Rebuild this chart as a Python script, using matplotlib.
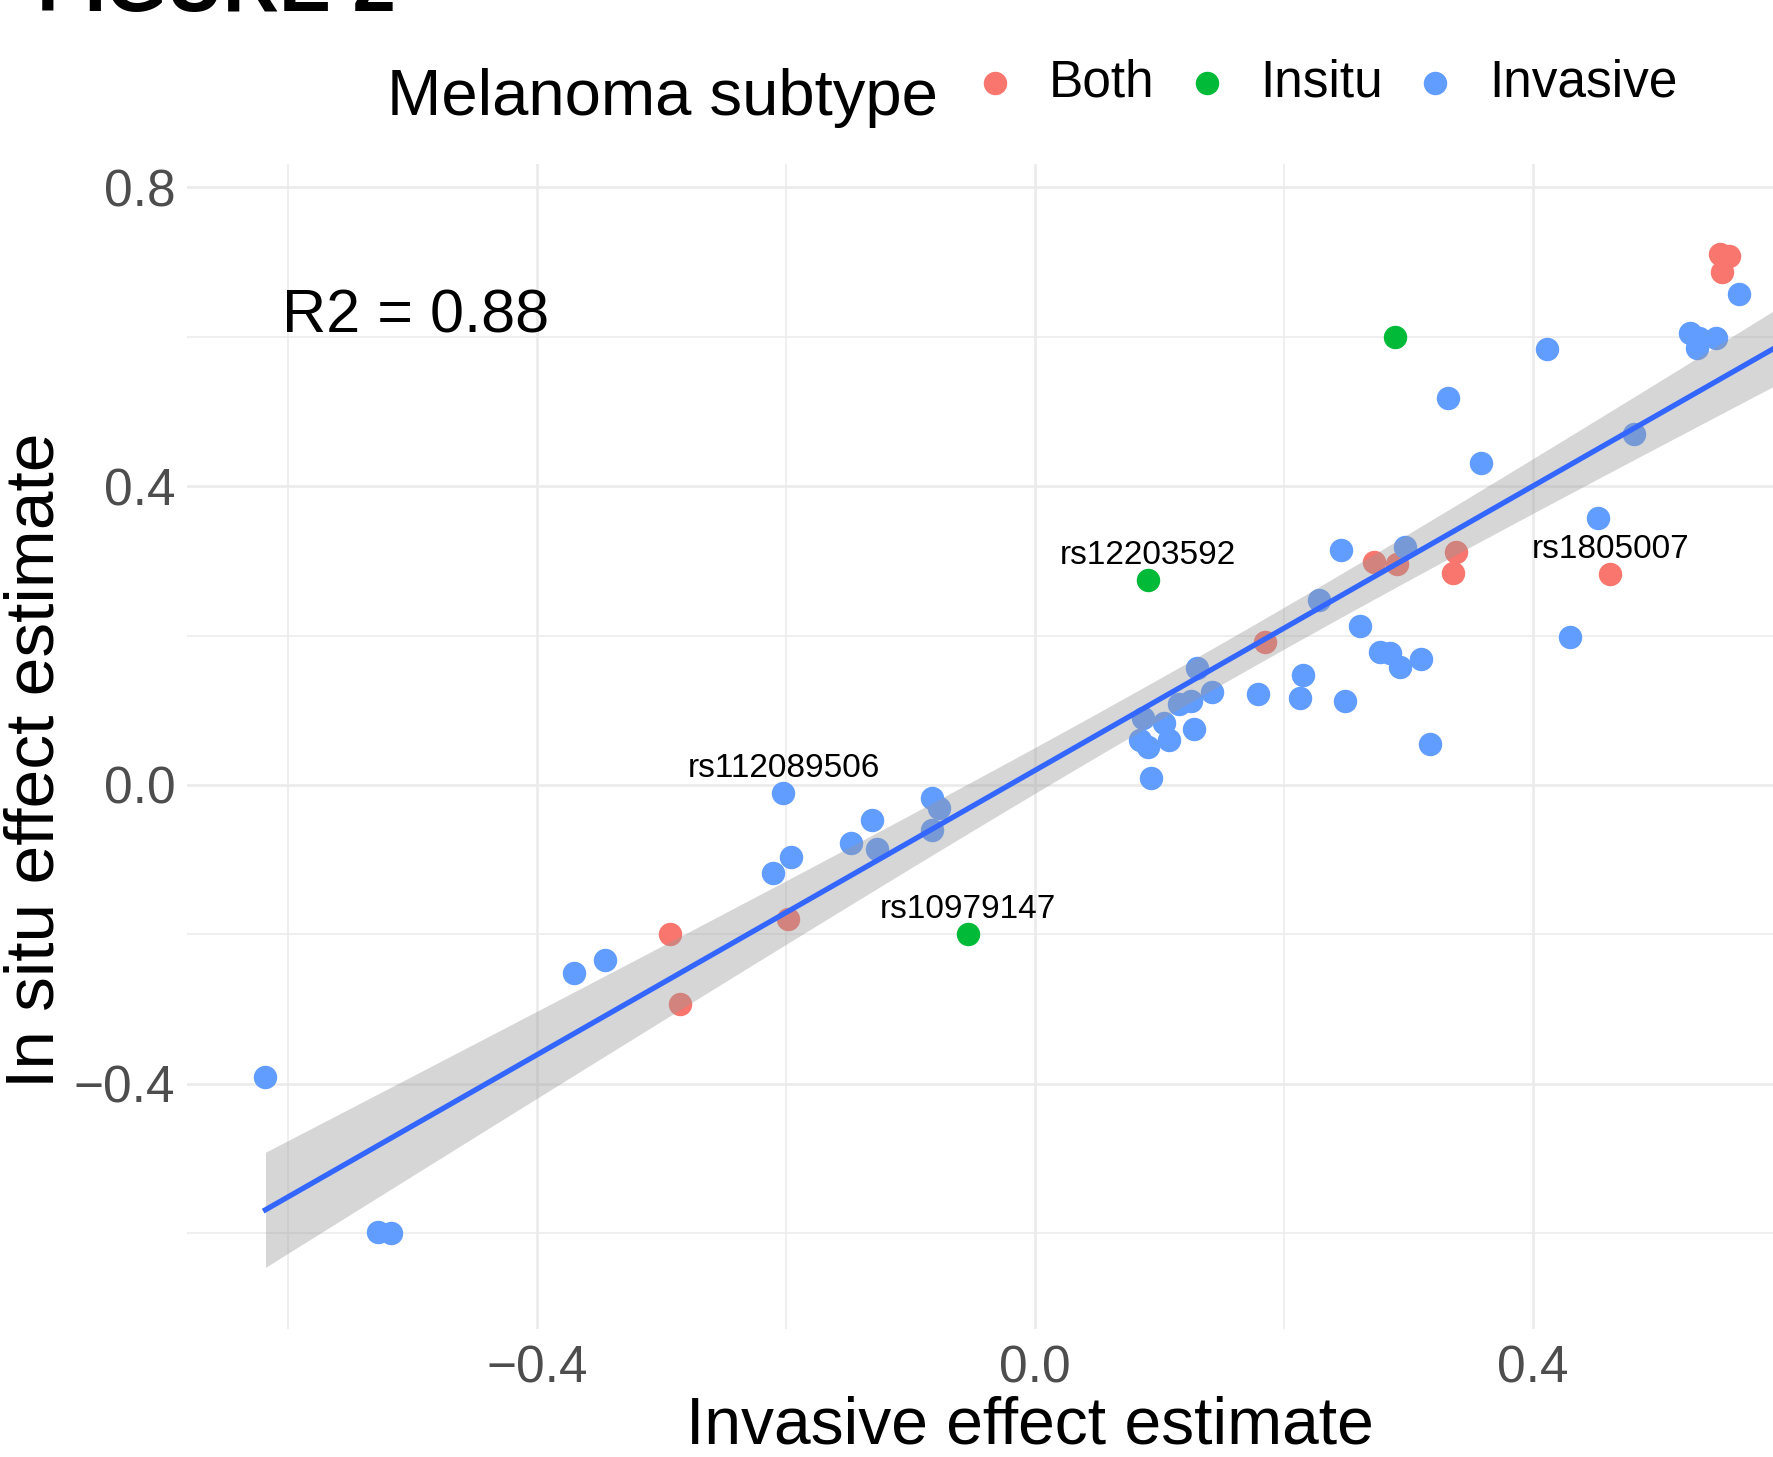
import numpy as np
import matplotlib
matplotlib.use("Agg")
import matplotlib.pyplot as plt

plt.rcParams['font.family'] = ['Liberation Sans', 'DejaVu Sans']

# ---------------- data ----------------
invasive_x = [-0.618, -0.528, -0.517, -0.370, -0.345, -0.210, -0.196, -0.202, -0.148, -0.131,
              -0.127, -0.083, -0.077, -0.083, 0.087, 0.084, 0.091, 0.093, 0.104, 0.108,
              0.116, 0.125, 0.128, 0.130, 0.142, 0.179, 0.213, 0.215, 0.228, 0.249,
              0.246, 0.261, 0.277, 0.285, 0.293, 0.310, 0.317, 0.297, 0.332, 0.358,
              0.411, 0.430, 0.452, 0.481, 0.526, 0.533, 0.532, 0.547, 0.565]
invasive_y = [-0.391, -0.598, -0.600, -0.252, -0.234, -0.118, -0.097, -0.011, -0.077, -0.047,
              -0.085, -0.018, -0.031, -0.060, 0.089, 0.060, 0.051, 0.009, 0.083, 0.060,
              0.109, 0.112, 0.075, 0.156, 0.124, 0.122, 0.117, 0.147, 0.248, 0.112,
              0.315, 0.213, 0.178, 0.176, 0.158, 0.168, 0.055, 0.319, 0.518, 0.431,
              0.584, 0.198, 0.357, 0.470, 0.605, 0.598, 0.585, 0.598, 0.657]

both_x = [-0.293, -0.285, -0.198, 0.185, 0.272, 0.291, 0.338, 0.336, 0.462, 0.550, 0.557, 0.552]
both_y = [-0.200, -0.293, -0.180, 0.192, 0.299, 0.296, 0.312, 0.284, 0.282, 0.710, 0.708, 0.686]

insitu_x = [0.091, 0.289, -0.054]
insitu_y = [0.274, 0.600, -0.200]

# labelled SNPs: (name, subtype, index into that subtype's arrays)
snp_names = ["rs12203592", "rs10979147", "rs1805007", "rs112089506"]
snp_groups = ["Insitu", "Insitu", "Both", "Invasive"]
snp_index = [0, 2, 8, 7]

subtypes = ["Both", "Insitu", "Invasive"]
colors = {"Both": "#F8766D", "Insitu": "#00BA38", "Invasive": "#619CFF"}
series = {"Both": (both_x, both_y), "Insitu": (insitu_x, insitu_y),
          "Invasive": (invasive_x, invasive_y)}

x_major = [-0.4, 0.0, 0.4]
x_minor = [-0.6, -0.2, 0.2, 0.6]
y_major = [-0.4, 0.0, 0.4, 0.8]
y_minor = [-0.6, -0.2, 0.2, 0.6]

r2_text = "R2 = 0.88"

# ---------------- figure ----------------
W, H = 1774, 1457
fig = plt.figure(figsize=(W / 100, H / 100), dpi=100)
ax = fig.add_axes([187 / W, 128 / H, 1686 / W, 1165 / H])
ax.set_xlim(-0.681, 0.673)
ax.set_ylim(-0.728, 0.831)

for s in ax.spines.values():
    s.set_visible(False)

ax.set_xticks(x_major)
ax.set_xticks(x_minor, minor=True)
ax.set_yticks(y_major)
ax.set_yticks(y_minor, minor=True)
fmt = lambda v: f"{v:.1f}".replace("-", "\u2212")
ax.set_xticklabels([fmt(v) for v in x_major])
ax.set_yticklabels([fmt(v) for v in y_major])
ax.tick_params(which='both', length=0)
ax.tick_params(axis='x', pad=11, labelsize=37, labelcolor='#4D4D4D')
ax.tick_params(axis='y', pad=8.5, labelsize=37, labelcolor='#4D4D4D')
ax.grid(which='major', color='#EBEBEB', linewidth=1.9)
ax.grid(which='minor', color='#EBEBEB', linewidth=1.1)
ax.set_axisbelow(True)

handles = []
for st in subtypes:
    xs, ys = series[st]
    sc = ax.scatter(xs, ys, s=285, color=colors[st], linewidths=0, zorder=2, label=st)
    handles.append(sc)

# linear fit with 95% confidence band (like geom_smooth(method = "lm"))
all_x = np.array(both_x + insitu_x + invasive_x)
all_y = np.array(both_y + insitu_y + invasive_y)
n = len(all_x)
slope, intercept = np.polyfit(all_x, all_y, 1)
resid = all_y - (slope * all_x + intercept)
sigma = np.sqrt(np.sum(resid ** 2) / (n - 2))
xbar = all_x.mean()
sxx = np.sum((all_x - xbar) ** 2)
t_crit = 1.999
xx = np.linspace(all_x.min(), ax.get_xlim()[1], 200)
yy = slope * xx + intercept
se = sigma * np.sqrt(1 / n + (xx - xbar) ** 2 / sxx)
ax.fill_between(xx, yy - t_crit * se, yy + t_crit * se, color='#999999', alpha=0.4,
                linewidth=0, zorder=3)
ax.plot(xx, yy, color='#3366FF', linewidth=3.8, zorder=4)

# SNP labels
for name, grp, idx in zip(snp_names, snp_groups, snp_index):
    px, py = series[grp][0][idx], series[grp][1][idx]
    ax.annotate(name, (px, py), xytext=(0, 12), textcoords='offset points',
                ha='center', va='baseline', fontsize=24, color='black', zorder=5)

ax.text(-0.605, 0.606, r2_text, fontsize=44, ha='left', va='baseline', color='black', zorder=5)

# axis titles
fig.text(1030 / W, 14 / H, "Invasive effect estimate", fontsize=47.5, ha='center', va='baseline')
fig.text(54 / W, 1 - 760 / H, "In situ effect estimate", fontsize=50, rotation=90,
         rotation_mode='anchor', ha='center', va='baseline')

# legend (top, horizontal)
fig.text(387 / W, 1 - 115 / H, "Melanoma subtype", fontsize=47, ha='left', va='baseline')
fig.legend(handles=handles, labels=subtypes, ncol=3, loc='center left',
           bbox_to_anchor=(972 / W, 1 - 83 / H), frameon=False, fontsize=37,
           handlelength=0.9, handletextpad=0.6, columnspacing=0.56,
           borderpad=0, borderaxespad=0)

# cropped figure label at the very top (cut off in the reference as well)
fig.text(37 / W, 1 - 11 / H, "FIGURE 2", fontsize=56, fontweight='bold',
         ha='left', va='baseline')

fig.savefig("out.png", dpi=100)
